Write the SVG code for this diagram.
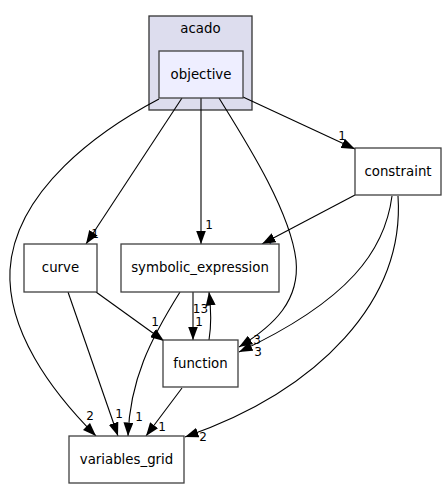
<svg xmlns="http://www.w3.org/2000/svg" width="448" height="489" viewBox="0 0 448 489">
<style>
.node rect{fill:#ffffff;stroke:#404040;stroke-width:1.3}
.t{font-family:"DejaVu Sans",sans-serif;font-size:13.33px;fill:#000;text-anchor:middle}
.l{font-family:"DejaVu Sans",sans-serif;font-size:12px;fill:#000;text-anchor:middle}
.e{fill:none;stroke:#000;stroke-width:1.1;marker-end:url(#ah)}
</style>
<defs>
<marker id="ah" viewBox="0 0 13.5 10" refX="13.5" refY="5" markerWidth="13.5" markerHeight="10" markerUnits="userSpaceOnUse" orient="auto">
<path d="M0,0 L13.5,5 L0,10 z" fill="#000"/>
</marker>
</defs>
<rect width="448" height="489" fill="#ffffff"/>
<g id="cluster_acado">
<rect x="149" y="16" width="103" height="94" fill="#ddddee" stroke="#333333" stroke-width="1.3"/>
<text class="t" x="200.5" y="33">acado</text>
</g>
<g id="edges">
<path class="e" d="M243,97 L355,149"/>
<text class="l" x="342" y="140">1</text>
<path class="e" d="M182,98 L86,244"/>
<text class="l" x="95" y="238">1</text>
<path class="e" d="M201,98 L201,244"/>
<text class="l" x="209" y="229">1</text>
<path class="e" d="M219,98 C245,140 290,210 296,260 C300,300 275,325 239,347"/>
<text class="l" x="257" y="344">3</text>
<path class="e" d="M159,99 C100,130 15,190 10,270 C7,330 50,390 96,436"/>
<text class="l" x="90" y="420">2</text>
<path class="e" d="M355,195 L262,244"/>
<text class="l" x="270" y="247">1</text>
<path class="e" d="M392,196 C385,250 350,300 239,352"/>
<text class="l" x="258" y="356">3</text>
<path class="e" d="M398,196 C405,300 320,390 185,437"/>
<text class="l" x="203" y="441">2</text>
<path class="e" d="M96,292 L164,341"/>
<text class="l" x="155" y="326">1</text>
<path class="e" d="M68,292 L118,436"/>
<text class="l" x="119" y="418">1</text>
<path class="e" d="M193,292 L193,340"/>
<text class="l" x="200.5" y="313">13</text>
<text class="l" x="199" y="325.5">1</text>
<path class="e" d="M209,340 C212,322 211,308 209,292"/>
<path class="e" d="M180,292 C150,340 130,380 128,436"/>
<text class="l" x="139" y="421">1</text>
<path class="e" d="M182,388 L146,436"/>
<text class="l" x="162" y="431">1</text>
</g>
<g id="objective" class="node">
<rect x="159" y="51" width="84" height="47" style="fill:#eeeeff"/>
<text class="t" x="201" y="79">objective</text>
</g>
<g id="constraint" class="node">
<rect x="355" y="148" width="86" height="47"/>
<text class="t" x="398" y="176">constraint</text>
</g>
<g id="curve" class="node">
<rect x="24" y="244" width="73" height="48"/>
<text class="t" x="60.5" y="272">curve</text>
</g>
<g id="symbolic_expression" class="node">
<rect x="121" y="244" width="158" height="48"/>
<text class="t" x="200" y="272">symbolic_expression</text>
</g>
<g id="function" class="node">
<rect x="163" y="340" width="75" height="47"/>
<text class="t" x="200.5" y="368">function</text>
</g>
<g id="variables_grid" class="node">
<rect x="69" y="436" width="115" height="47"/>
<text class="t" x="126.5" y="464">variables_grid</text>
</g>
</svg>
